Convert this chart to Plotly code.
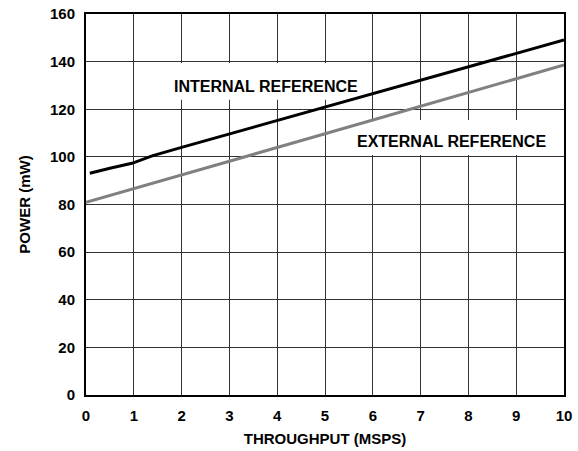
import plotly.graph_objects as go

# throughput (MSPS) vs power (mW)
internal_x = [0.08, 0.15, 0.5, 0.96, 1.1, 1.4, 2.0, 3.0, 4.0, 5.0, 6.0, 7.0, 8.0, 9.0, 10.0]
internal_y = [93.1, 93.5, 95.2, 97.3, 98.4, 100.5, 104.0, 109.6, 115.3, 120.9, 126.6, 132.2, 137.8, 143.5, 149.1]

external_x = [0.0, 1.0, 2.0, 3.0, 4.0, 5.0, 6.0, 7.0, 8.0, 9.0, 10.0]
external_y = [80.9, 86.6, 92.4, 98.2, 104.0, 109.7, 115.5, 121.3, 127.0, 132.8, 138.6]

x_ticks = [0, 1, 2, 3, 4, 5, 6, 7, 8, 9, 10]
y_ticks = [0, 20, 40, 60, 80, 100, 120, 140, 160]

# label text, anchor, and white knock-out box (data units)
labels = [
    dict(text="INTERNAL REFERENCE", x=3.76, y=129.6, box=(1.72, 5.86, 124.0, 139.4)),
    dict(text="EXTERNAL REFERENCE", x=7.65, y=106.5, box=(5.52, 9.95, 100.8, 115.5)),
]

FONT = "Liberation Sans, Arial, sans-serif"

fig = go.Figure()

fig.add_trace(go.Scatter(
    x=external_x, y=external_y, mode='lines',
    line=dict(color='#808080', width=3),
    showlegend=False
))
fig.add_trace(go.Scatter(
    x=internal_x, y=internal_y, mode='lines',
    line=dict(color='#000000', width=3),
    showlegend=False
))

for lab in labels:
    x0, x1, y0, y1 = lab['box']
    # white box sits over the grid but under the curves
    fig.add_shape(
        type='rect', xref='x', yref='y', x0=x0, x1=x1, y0=y0, y1=y1,
        fillcolor='#FFFFFF', line=dict(width=0), layer='between'
    )
    fig.add_annotation(
        x=lab['x'], y=lab['y'], text=f"<b>{lab['text']}</b>", showarrow=False,
        font=dict(family=FONT, size=16, color='#000000')
    )

fig.update_layout(
    width=578,
    height=451,
    plot_bgcolor='#FFFFFF',
    paper_bgcolor='#FFFFFF',
    margin=dict(l=86, r=14, t=14, b=56),
    font=dict(family=FONT, size=15, color='#000000'),
    xaxis=dict(
        range=[0, 10],
        tickvals=x_ticks,
        ticktext=[f"<b>{v}</b>" for v in x_ticks],
        showgrid=True, gridcolor='#333333', gridwidth=1,
        showline=True, linecolor='#000000', linewidth=2, mirror=True,
        ticks='', zeroline=False, ticklabelstandoff=6, automargin=False,
        title=dict(text="<b>THROUGHPUT (MSPS)</b>", font=dict(size=15), standoff=10),
    ),
    yaxis=dict(
        range=[0, 160],
        tickvals=y_ticks,
        ticktext=[f"<b>{v}</b>" for v in y_ticks],
        showgrid=True, gridcolor='#333333', gridwidth=1,
        showline=True, linecolor='#000000', linewidth=2, mirror=True,
        ticks='', zeroline=False, ticklabelstandoff=6, automargin=False,
        title=dict(text="<b>POWER (mW)</b>", font=dict(size=15), standoff=16),
    ),
)

fig.write_html("out.html", config={'displayModeBar': False},
               post_script="document.body.style.margin='0';")
